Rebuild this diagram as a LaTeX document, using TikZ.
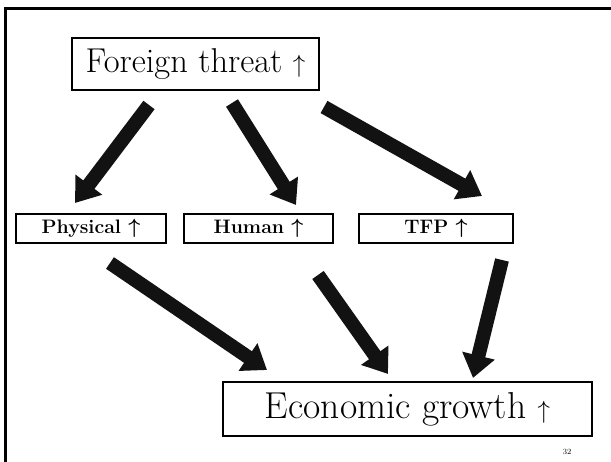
\documentclass[tikz,border=0pt]{standalone}
\usepackage{fontspec}
\usetikzlibrary{arrows.meta}
\begin{document}
\begin{tikzpicture}[x=1pt,y=-1pt,
  box/.style={draw=black,line width=2.5pt,inner sep=0pt,align=center},
  bigbox/.style={box,font=\fontsize{34.5}{38}\selectfont},
  midbox/.style={box,font=\fontsize{19.5}{21}\selectfont\bfseries\boldmath},
  fat/.style={line width=14pt,color=black!93,
    -{Triangle[width=32pt,length=23pt]}}]
  \useasboundingbox (0,0) rectangle (611,462);
  % slide frame
  \draw[line width=2.2pt] (5.5,462) -- (5.5,8.5) -- (611,8.5);
  % boxes
  \node[bigbox,minimum width=247pt,minimum height=52pt] (ft) at (195.5,64) {Foreign threat $\uparrow$};
  \node[midbox,minimum width=150pt,minimum height=29pt] (phys) at (91,228.5) {Physical $\uparrow$};
  \node[midbox,minimum width=149pt,minimum height=29pt] (hum) at (258.5,228.5) {Human $\uparrow$};
  \node[midbox,minimum width=154pt,minimum height=29pt] (tfp) at (436,228.5) {TFP $\uparrow$};
  \node[bigbox,minimum width=369pt,minimum height=54pt,font=\fontsize{37.5}{40}\selectfont] (eg) at (407.5,409) {Economic growth $\uparrow$};
  \node[font=\fontsize{8}{9}\selectfont] (pg) at (567,452) {32};
  % arrow ends
  \coordinate (a1s) at (149,105); \coordinate (a1e) at (75,203);
  \coordinate (a2s) at (232,103); \coordinate (a2e) at (296,205);
  \coordinate (a3s) at (324,107); \coordinate (a3e) at (482,196);
  \coordinate (a4s) at (110,263); \coordinate (a4e) at (267,370);
  \coordinate (a5s) at (318,275); \coordinate (a5e) at (388,374);
  \coordinate (a6s) at (502,260); \coordinate (a6e) at (473,378);
  \draw[fat] (a1s) -- (a1e);
  \draw[fat] (a2s) -- (a2e);
  \draw[fat] (a3s) -- (a3e);
  \draw[fat] (a4s) -- (a4e);
  \draw[fat] (a5s) -- (a5e);
  \draw[fat] (a6s) -- (a6e);
\end{tikzpicture}
\end{document}
